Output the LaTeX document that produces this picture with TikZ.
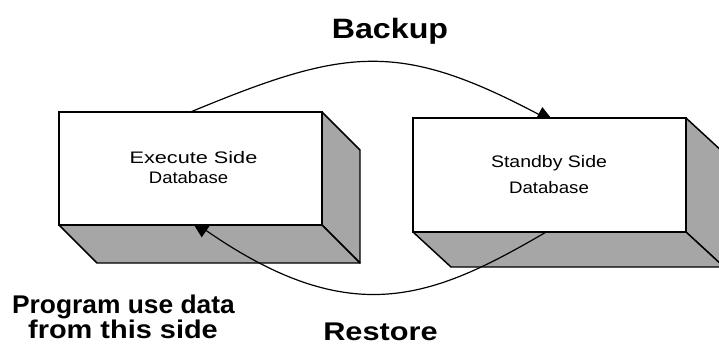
\documentclass[tikz,border=0pt]{standalone}
\usepackage{fontspec}
\usepackage{graphicx}
\setmainfont{Liberation Sans}
\usetikzlibrary{arrows.meta}
\pgfdeclarelayer{bg}
\pgfdeclarelayer{fg}
\pgfsetlayers{bg,main,fg}
\newcommand\wideby[2]{\scalebox{#1}[1]{#2}}
\begin{document}
\begin{tikzpicture}[x=0.75pt,y=-0.75pt,
  face/.style={draw=black,line width=1.1pt,fill=white,inner sep=0pt,outer sep=0pt},
  sideface/.style={draw=black,line width=1.1pt,fill=black!35,line join=round},
  flow/.style={line width=0.9pt,-{Triangle[length=14pt,width=12pt]}},
  boxtxt/.style={anchor=base,inner sep=0pt,font=\fontsize{12.5pt}{14pt}\selectfont},
  bigtxt/.style={anchor=base,inner sep=0pt,font=\fontsize{19.2pt}{22pt}\selectfont\bfseries}]
\useasboundingbox (0,0) rectangle (719,347);
\clip (0,0) rectangle (719,347);
\begin{pgfonlayer}{fg}
  \node[face,minimum width=197.25pt,minimum height=84.75pt] (exec) at (190.5,168.5) {};
  \node[face,minimum width=204.75pt,minimum height=85.5pt] (standby) at (549.5,175) {};
  \node[boxtxt] (e1) at (193.5,163) {\wideby{1.3}{Execute Side}};
  \node[boxtxt] (e2) at (188.5,183) {\wideby{1.11}{Database}};
  \node[boxtxt] (s1) at (549,167) {\wideby{1.17}{Standby Side}};
  \node[boxtxt] (s2) at (549,193) {\wideby{1.12}{Database}};
\end{pgfonlayer}
\begin{pgfonlayer}{bg}
  \draw[sideface] (exec.north east) -- ++(38,38) -- ++(0,113) -- (exec.south east) -- cycle;
  \draw[sideface] (exec.south west) -- (exec.south east) -- ++(38,38) -- ++(-263,0) -- cycle;
  \draw[sideface] (standby.north east) -- ++(38,35) -- ++(0,114) -- (standby.south east) -- cycle;
  \draw[sideface] (standby.south west) -- (standby.south east) -- ++(38,35) -- ++(-273,0) -- cycle;
\end{pgfonlayer}
\coordinate (bkend) at (555,123);
\coordinate (rsstart) at (553,228);
\coordinate (rsend) at (191,220);
\draw[flow] (exec.north) .. controls (345,48) and (398,40) .. (bkend);
\draw[flow] (rsstart) .. controls (435,297.5) and (354,333) .. (rsend);
\node[bigtxt,font=\fontsize{21pt}{24pt}\selectfont\bfseries] (backup) at (390,38) {\wideby{1.15}{Backup}};
\node[bigtxt] (restore) at (380.5,340) {\wideby{1.2}{Restore}};
\node[bigtxt] (prog1) at (123.5,313) {\wideby{1.03}{Program use data}};
\node[bigtxt] (prog2) at (123,338) {\wideby{1.13}{from this side}};
\end{tikzpicture}
\end{document}
